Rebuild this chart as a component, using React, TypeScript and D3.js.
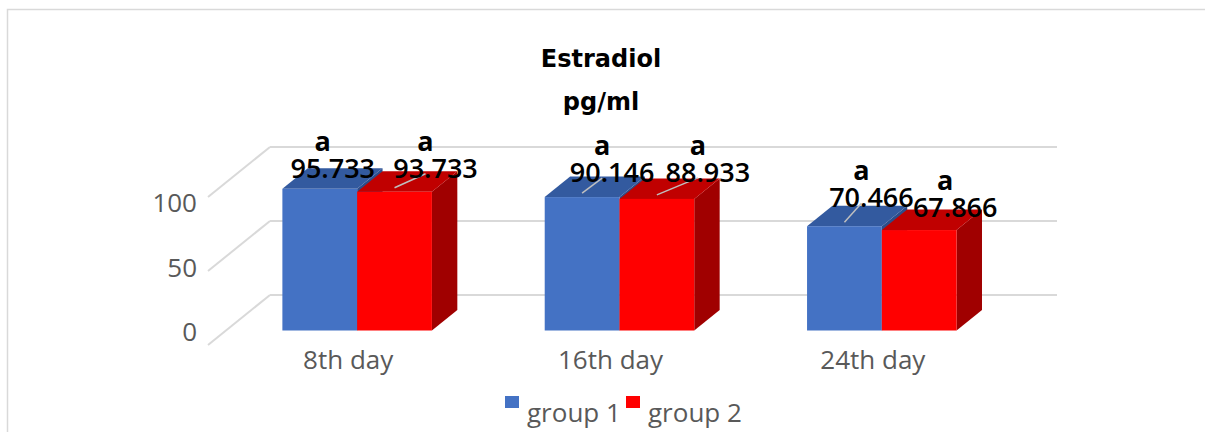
import React from "react";
import * as d3 from "d3";

// ---- data ----
const categories = ["8th day", "16th day", "24th day"];
const groups = ["group 1", "group 2"];
const group1 = [95.733, 90.146, 70.466];
const group2 = [93.733, 88.933, 67.866];
const letters1 = ["a", "a", "a"];
const letters2 = ["a", "a", "a"];
const yTicks = [0, 50, 100];
const titleLines = ["Estradiol", "pg/ml"];

// ---- layout (styling, not data) ----
const W = 1205;
const H = 432;
const frontLeft = 208;
const frontRight = 995;
const floorY = 345; // y of value 0 on the front plane
const wallDX = 62; // full depth projection
const wallDY = -50;
const barZ0 = 0.29;
const barZ1 = 0.7;
const colors = ["#4472C4", "#FF0000"];
const topColors = ["#335a9f", "#c00000"];
const sideColors = ["#2c4d8a", "#a00000"];
// label nudges relative to bar front-top centre: [dx, dy] for each category, per group
const labelNudge1 = [[13, -11], [30, -15], [27, -19]];
const labelNudge2 = [[41, -14], [51, -17], [36, -13]];
const leader1 = [false, true, true];
const leader2 = [true, true, false];

export default function App() {
  const x = d3
    .scaleBand<string>()
    .domain(categories)
    .range([frontLeft, frontRight])
    .paddingInner(0.43)
    .paddingOuter(0.215);
  const xs = d3.scaleBand<string>().domain(groups).range([0, x.bandwidth()]);
  const y = d3.scaleLinear().domain([0, 100]).range([0, 148]); // height in px
  const tickLabelY = d3.scaleLinear().domain([0, 100]).range([332, 203]);

  const proj = (px: number, v: number, z: number) => [px + z * wallDX, floorY - y(v) + z * wallDY];

  const series = [group1, group2];
  const letters = [letters1, letters2];
  const nudges = [labelNudge1, labelNudge2];
  const leaders = [leader1, leader2];

  const ddx = (barZ1 - barZ0) * wallDX;
  const ddy = (barZ1 - barZ0) * wallDY;

  const bars: any[] = [];
  const labels: any[] = [];
  categories.forEach((c, ci) => {
    groups.forEach((g, gi) => {
      const v = series[gi][ci];
      const bx = (x(c) as number) + (xs(g) as number);
      const bw = xs.bandwidth();
      const [fx, fyTop] = proj(bx, v, barZ0);
      const [, fyBot] = proj(bx, 0, barZ0);
      const top = [
        [fx, fyTop],
        [fx + ddx, fyTop + ddy],
        [fx + bw + ddx, fyTop + ddy],
        [fx + bw, fyTop],
      ];
      const side = [
        [fx + bw, fyTop],
        [fx + bw + ddx, fyTop + ddy],
        [fx + bw + ddx, fyBot + ddy],
        [fx + bw, fyBot],
      ];
      bars.push(
        <g key={`b${ci}-${gi}`}>
          <polygon points={side.map((p) => p.join(",")).join(" ")} fill={sideColors[gi]} />
          <polygon points={top.map((p) => p.join(",")).join(" ")} fill={topColors[gi]} />
          <rect x={fx} y={fyTop} width={bw} height={fyBot - fyTop} fill={colors[gi]} />
        </g>
      );
      const cx = fx + bw / 2;
      const [ndx, ndy] = nudges[gi][ci];
      const lx = cx + ndx;
      const ly = fyTop + ndy;
      labels.push(
        <g key={`l${ci}-${gi}`}>
          {leaders[gi][ci] && (
            <line x1={cx} y1={fyTop - 4} x2={lx - 10} y2={ly - 4} stroke="#bfbfbf" strokeWidth={1.5} />
          )}
          <text x={lx - 10} y={ly - 27} textAnchor="middle" fontFamily="Open Sans" fontWeight={700} fontSize={27} fill="#000">
            {letters[gi][ci]}
          </text>
          <text x={lx} y={ly} textAnchor="middle" fontFamily="Open Sans" fontWeight={600} fontSize={27} fill="#000">
            {v.toFixed(3)}
          </text>
        </g>
      );
    });
  });

  return (
    <svg width={W} height={H} style={{ position: "absolute", left: 0, top: 0, background: "#fff" }}>
      <rect x={7.5} y={9.5} width={W + 20} height={H + 20} fill="#fff" stroke="#d9d9d9" strokeWidth={1.5} />
      {/* gridlines */}
      {yTicks.map((t) => {
        const [ax, ay] = proj(frontLeft, t, 0);
        const [bx, by] = proj(frontLeft, t, 1);
        const [cx2] = proj(frontRight, t, 1);
        return (
          <g key={`g${t}`} stroke="#d9d9d9" strokeWidth={2} fill="none">
            <line x1={ax} y1={ay} x2={bx} y2={by} />
            <line x1={bx} y1={by} x2={cx2} y2={by} />
          </g>
        );
      })}
      {/* y tick labels */}
      {yTicks.map((t) => (
        <text key={`t${t}`} x={197} y={tickLabelY(t)} dy="0.35em" textAnchor="end" fontFamily="Open Sans" fontSize={26} fill="#595959">
          {t}
        </text>
      ))}
      {bars}
      {labels}
      {/* category labels */}
      {categories.map((c) => (
        <text key={c} x={(x(c) as number) + x.bandwidth() / 2 + 9} y={369} textAnchor="middle" fontFamily="Open Sans" fontSize={26} fill="#595959">
          {c}
        </text>
      ))}
      {/* title */}
      {titleLines.map((t, i) => (
        <text key={t} x={601} y={67 + i * 43} textAnchor="middle" fontFamily="DejaVu Sans" fontWeight="bold" fontSize={24} fill="#000">
          {t}
        </text>
      ))}
      {/* legend */}
      {groups.map((g, i) => (
        <g key={g} transform={`translate(${505 + i * 121},0)`}>
          <rect x={0} y={396} width={14} height={12} fill={colors[i]} />
          <text x={22} y={422} fontFamily="Open Sans" fontSize={26} fill="#595959">
            {g}
          </text>
        </g>
      ))}
    </svg>
  );
}
